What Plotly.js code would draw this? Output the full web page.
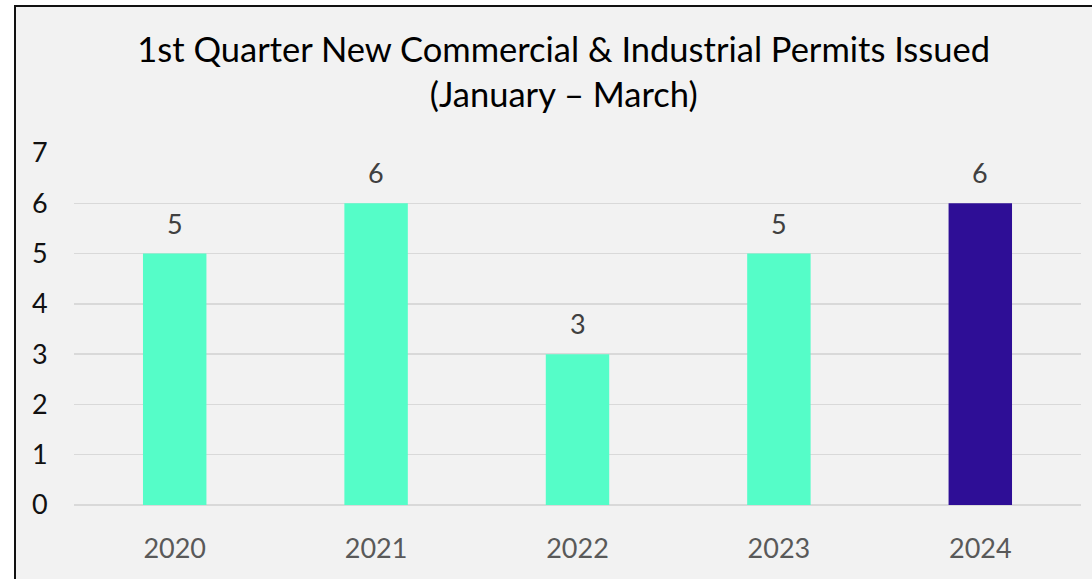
<!DOCTYPE html>
<html>
<head>
<meta charset="utf-8">
<script src="https://cdn.plot.ly/plotly-3.0.1.min.js"></script>
<style>
  html, body { margin: 0; padding: 0; background: #ffffff; width: 1092px; height: 579px; overflow: hidden; }
  #frame { position: absolute; left: 14px; top: 5px; width: 1076px; height: 572px;
           border-left: 2px solid #111; border-top: 2px solid #111; background: #f2f2f2; }
  #chart { width: 1076px; height: 572px; }
</style>
</head>
<body>
<div id="frame"><div id="chart"></div></div>
<script>
const years = ['2020', '2021', '2022', '2023', '2024'];
const permits = [5, 6, 3, 5, 6];
const barColors = ['#55fdc8', '#55fdc8', '#55fdc8', '#55fdc8', '#2e0e96'];
const yTicks = [0, 1, 2, 3, 4, 5, 6, 7];
const titleText = '1st Quarter New Commercial & Industrial Permits Issued<br>(January \u2013 March)';

const fontFam = 'Lato, "Open Sans", sans-serif';

const trace = {
  type: 'bar',
  x: years,
  y: permits,
  marker: { color: barColors, line: { width: 0 } },
  hoverinfo: 'x+y'
};

const annotations = years.map((yr, i) => ({
  x: i, y: permits[i], xref: 'x', yref: 'y',
  text: String(permits[i]),
  showarrow: false, yanchor: 'bottom', yshift: 12,
  font: { family: fontFam, size: 27, color: '#404040' }
}));

const layout = {
  width: 1076, height: 572,
  paper_bgcolor: '#f2f2f2',
  plot_bgcolor: '#f2f2f2',
  margin: { l: 58, r: 11, t: 146, b: 73.5 },
  bargap: 0.685,
  showlegend: false,
  title: {
    text: titleText,
    x: 0.509, xref: 'container', xanchor: 'center',
    y: 0.903, yref: 'container', yanchor: 'top',
    font: { family: fontFam, size: 34.5, color: '#000000' }
  },
  xaxis: {
    type: 'category',
    range: [-0.5, 4.5],
    showgrid: false, zeroline: false, showline: false,
    ticks: 'outside', ticklen: 20, tickcolor: 'rgba(0,0,0,0)',
    tickfont: { family: fontFam, size: 27, color: '#595959' }
  },
  yaxis: {
    range: [0, 7],
    tickvals: yTicks,
    showgrid: true, gridcolor: '#d9d9d9', gridwidth: 1.5,
    zeroline: true, zerolinecolor: '#d9d9d9', zerolinewidth: 1.5,
    showline: false,
    ticks: 'outside', ticklen: 20, tickcolor: 'rgba(0,0,0,0)',
    tickfont: { family: fontFam, size: 27, color: '#111111' }
  },
  annotations: annotations
};

Plotly.newPlot('chart', [trace], layout, { displayModeBar: false, staticPlot: true });
</script>
</body>
</html>
